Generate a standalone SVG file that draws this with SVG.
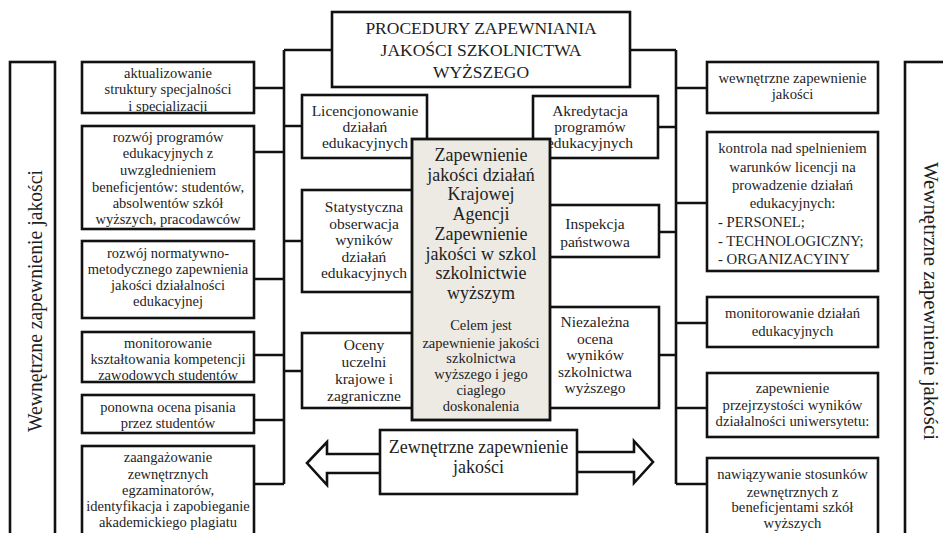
<svg xmlns="http://www.w3.org/2000/svg" width="943" height="533" viewBox="0 0 943 533" font-family="'Liberation Serif', serif">
<style>
.bx{fill:#fff;stroke:#111;stroke-width:2.6}
.ctr{fill:#ECEAE2;stroke:#111;stroke-width:2.8}
.ln{fill:none;stroke:#111;stroke-width:2.6}
text{font-family:'Liberation Serif',serif;fill:#1e1e1e;text-anchor:middle}
.s{font-size:14.5px}
.r{font-size:14.7px}
.m{font-size:15.5px}
.l{font-size:18px}
.t{font-size:17.5px}
.v{font-size:20px}
.st{text-anchor:start}
</style>
<rect width="943" height="533" fill="#fff"/>
<g id="connectors">
<path class="ln" d="M284,50 V484 M284,50 H334 M254,88 H284 M254,152 H284 M254,279 H284 M254,355 H284 M254,420 H284 M254,484 H284 M284,126 H304 M284,241 H304 M284,371 H304"/>
<path class="ln" d="M676,50 V484 M628,50 H676 M676,88 H707 M676,203 H707 M676,323 H707 M676,408 H707 M676,484 H707 M657,127 H676 M657,232 H676 M657,355 H676"/>
<path class="ln" d="M382,454 H327 V442 L307,463 L327,485 V473 H382"/>
<path class="ln" d="M575,452 H634 V441 L653,462 L634,483 V472 H575"/>
</g>
<g id="left-side">
<rect class="bx" x="10" y="62" width="45" height="480"/>
<text class="v" transform="translate(42,301) rotate(-90)" textLength="262" lengthAdjust="spacingAndGlyphs">Wewnętrzne zapewnienie jakości</text>
</g>
<g id="right-side">
<rect class="bx" x="905" y="62" width="50" height="480"/>
<text class="v" transform="translate(924,301) rotate(90)" textLength="278" lengthAdjust="spacingAndGlyphs">Wewnętrzne zapewnienie jakości</text>
</g>
<g id="top">
<rect class="bx" x="332" y="12" width="298" height="75"/>
<text class="t"><tspan x="481" y="33.5">PROCEDURY ZAPEWNIANIA</tspan><tspan x="481" y="56">JAKOŚCI SZKOLNICTWA</tspan><tspan x="481" y="77.5">WYŻSZEGO</tspan></text>
</g>
<g id="l1">
<rect class="bx" x="82" y="62" width="172" height="51"/>
<text class="s"><tspan x="168" y="77.5">aktualizowanie</tspan><tspan x="168" y="94">struktury specjalności</tspan><tspan x="168" y="110.5">i specjalizacji</tspan></text>
</g>
<g id="l2">
<rect class="bx" x="82" y="126" width="172" height="103"/>
<text class="s"><tspan x="168" y="142">rozwój programów</tspan><tspan x="168" y="158">edukacyjnych z</tspan><tspan x="168" y="175">uwzglednieniem</tspan><tspan x="168" y="192">beneficjentów: studentów,</tspan><tspan x="168" y="208">absolwentów szkół</tspan><tspan x="168" y="224">wyższych, pracodawców</tspan></text>
</g>
<g id="l3">
<rect class="bx" x="82" y="241" width="172" height="77"/>
<text class="s"><tspan x="168" y="258">rozwój normatywno-</tspan><tspan x="168" y="274">metodycznego zapewnienia</tspan><tspan x="168" y="290">jakości działalności</tspan><tspan x="168" y="306">edukacyjnej</tspan></text>
</g>
<g id="l4">
<rect class="bx" x="82" y="332" width="172" height="50"/>
<text class="s"><tspan x="168" y="348">monitorowanie</tspan><tspan x="168" y="364">kształtowania kompetencji</tspan><tspan x="168" y="379.5">zawodowych studentów</tspan></text>
</g>
<g id="l5">
<rect class="bx" x="82" y="395" width="172" height="38"/>
<text class="s"><tspan x="168" y="412">ponowna ocena pisania</tspan><tspan x="168" y="427.5">przez studentów</tspan></text>
</g>
<g id="l6">
<rect class="bx" x="82" y="446" width="172" height="100"/>
<text class="s"><tspan x="168" y="462">zaangażowanie</tspan><tspan x="168" y="479">zewnętrznych</tspan><tspan x="168" y="495">egzaminatorów,</tspan><tspan x="168" y="511">identyfikacja i zapobieganie</tspan><tspan x="168" y="527">akademickiego plagiatu</tspan></text>
</g>
<g id="m1">
<rect class="bx" x="302" y="95" width="125" height="63"/>
<text class="m"><tspan x="365" y="115.5">Licencjonowanie</tspan><tspan x="365" y="131.5">działań</tspan><tspan x="365" y="147.5">edukacyjnych</tspan></text>
</g>
<g id="m2">
<rect class="bx" x="302" y="190" width="125" height="102"/>
<text class="m"><tspan x="364" y="212">Statystyczna</tspan><tspan x="364" y="228.5">obserwacja</tspan><tspan x="364" y="245">wyników</tspan><tspan x="364" y="261.5">działań</tspan><tspan x="364" y="278">edukacyjnych</tspan></text>
</g>
<g id="m3">
<rect class="bx" x="302" y="333" width="125" height="75"/>
<text class="m"><tspan x="364" y="350">Oceny</tspan><tspan x="364" y="367">uczelni</tspan><tspan x="364" y="384">krajowe i</tspan><tspan x="364" y="400.5">zagraniczne</tspan></text>
</g>
<g id="m4">
<rect class="bx" x="533" y="96" width="125" height="62"/>
<text class="m"><tspan x="590" y="115.5">Akredytacja</tspan><tspan x="590" y="131.5">programów</tspan><tspan x="590" y="147.5">edukacyjnych</tspan></text>
</g>
<g id="m5">
<rect class="bx" x="533" y="205" width="126" height="52"/>
<text class="m"><tspan x="595" y="229">Inspekcja</tspan><tspan x="595" y="247">państwowa</tspan></text>
</g>
<g id="m6">
<rect class="bx" x="533" y="307" width="126" height="101"/>
<text class="m"><tspan x="595" y="327">Niezależna</tspan><tspan x="595" y="343.5">ocena</tspan><tspan x="595" y="360">wyników</tspan><tspan x="595" y="376.5">szkolnictwa</tspan><tspan x="595" y="393">wyższego</tspan></text>
</g>
<g id="center">
<rect class="ctr" x="412" y="139" width="138" height="281"/>
<text class="l"><tspan x="481" y="161">Zapewnienie</tspan><tspan x="481" y="180.7">jakości działań</tspan><tspan x="481" y="200.4">Krajowej</tspan><tspan x="481" y="220.1">Agencji</tspan><tspan x="481" y="239.8">Zapewnienie</tspan><tspan x="481" y="259.5">jakości w szkol</tspan><tspan x="481" y="279.2">szkolnictwie</tspan><tspan x="481" y="298.9">wyższym</tspan></text>
<text class="s"><tspan x="481" y="330">Celem jest</tspan><tspan x="481" y="348">zapewnienie jakości</tspan><tspan x="481" y="363">szkolnictwa</tspan><tspan x="481" y="378.5">wyższego i jego</tspan><tspan x="481" y="395">ciaglego</tspan><tspan x="481" y="411">doskonalenia</tspan></text>
</g>
<g id="external">
<rect class="bx" x="380" y="430" width="197" height="64"/>
<text class="l"><tspan x="478.5" y="453">Zewnętrzne zapewnienie</tspan><tspan x="478.5" y="473">jakości</tspan></text>
</g>
<g id="r1">
<rect class="bx" x="707" y="62" width="171" height="51"/>
<text class="r"><tspan x="792.5" y="83">wewnętrzne zapewnienie</tspan><tspan x="792.5" y="99">jakości</tspan></text>
</g>
<g id="r2">
<rect class="bx" x="707" y="132" width="171" height="139"/>
<text class="r"><tspan x="792.5" y="153">kontrola nad spelnieniem</tspan><tspan x="792.5" y="172">warunków licencji na</tspan><tspan x="792.5" y="190">prowadzenie działań</tspan><tspan x="792.5" y="208">edukacyjnych:</tspan></text>
<text class="r st"><tspan x="718" y="227">- PERSONEL;</tspan><tspan x="718" y="246">- TECHNOLOGICZNY;</tspan><tspan x="718" y="264">- ORGANIZACYINY</tspan></text>
</g>
<g id="r3">
<rect class="bx" x="707" y="297" width="171" height="50"/>
<text class="r"><tspan x="792.5" y="318">monitorowanie działań</tspan><tspan x="792.5" y="336">edukacyjnych</tspan></text>
</g>
<g id="r4">
<rect class="bx" x="707" y="373" width="171" height="64"/>
<text class="r"><tspan x="792.5" y="393">zapewnienie</tspan><tspan x="792.5" y="410">przejrzystości wyników</tspan><tspan x="792.5" y="426">działalności uniwersytetu:</tspan></text>
</g>
<g id="r5">
<rect class="bx" x="707" y="458" width="171" height="90"/>
<text class="r"><tspan x="792.5" y="479">nawiązywanie stosunków</tspan><tspan x="792.5" y="497">zewnętrznych z</tspan><tspan x="792.5" y="512">beneficjentami szkół</tspan><tspan x="792.5" y="528">wyższych</tspan></text>
</g>
</svg>
